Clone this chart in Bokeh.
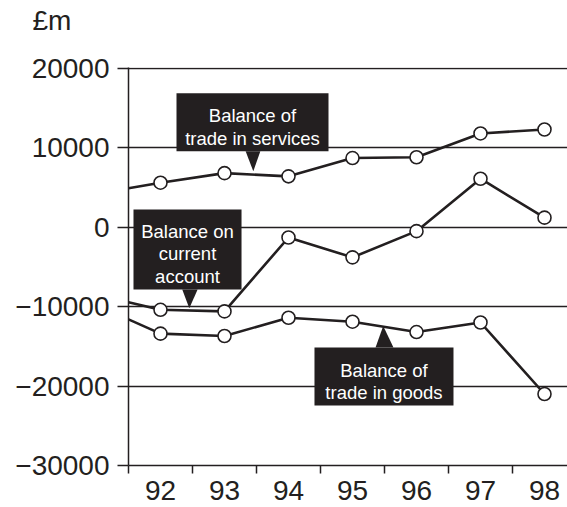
from bokeh.plotting import figure
from bokeh.models import Range1d, FixedTicker, Title, ColumnDataSource
from bokeh.core.properties import value
from bokeh.embed import file_html
from bokeh.resources import INLINE

# ---- data ----
years = [92, 93, 94, 95, 96, 97, 98]
year_labels = ["92", "93", "94", "95", "96", "97", "98"]
services = [5600, 6800, 6400, 8700, 8800, 11800, 12300]
current = [-10400, -10600, -1300, -3800, -500, 6100, 1200]
goods = [-13400, -13700, -11400, -11900, -13200, -12000, -21000]
# values where each line enters at the left axis (mid-1991)
start_x = 91.5
services_start = 4900
current_start = -9450
goods_start = -11600

y_ticks = [-30000, -20000, -10000, 0, 10000, 20000]
y_tick_labels = ["\u221230000", "\u221220000", "\u221210000", "0", "10000", "20000"]
unit_label = "£m"

# ---- callout annotations (layout, data units) ----
callouts = [
    dict(lines=["Balance of", "trade in services"], left=92.25, right=94.625, top=16850, bottom=9550,
         tip=(93.45, 7030), base=(93.33, 93.56), baselines=[14080, 11180]),
    dict(lines=["Balance on", "current", "account"], left=91.578, right=93.266, top=2240, bottom=-7830,
         tip=(92.45, -10200), base=(92.34, 92.58), baselines=[-520, -3300, -6190]),
    dict(lines=["Balance of", "trade in goods"], left=94.406, right=96.578, top=-15140, bottom=-22440,
         tip=(95.48, -12440), base=(95.36, 95.64), baselines=[-18030, -20800]),
]

INK = "#231f20"
FONT = "Liberation Sans"

p = figure(width=567, height=507, output_backend="svg", toolbar_location=None,
           x_range=Range1d(91.5, 91.5 + 439 / 64), y_range=Range1d(-30000, 20100),
           min_border_left=128, min_border_right=0, min_border_top=67, min_border_bottom=42)
p.outline_line_color = None
p.background_fill_color = "white"
p.border_fill_color = "white"

# unit label "£m" above the value axis (second, blank line lifts it up)
p.title = Title(text=unit_label + "\n ", text_font_size="28px", text_font=FONT,
                text_font_style="normal", text_color=INK, align="left", offset=-96,
                standoff=2, vertical_align="bottom", text_line_height=1.0)

# x axis: labels centred at the years, tick marks between them
xax = p.xaxis[0]
xax.ticker = FixedTicker(ticks=years, minor_ticks=[y - 0.5 for y in years])
xax.major_label_overrides = dict(zip(years, year_labels))
xax.major_tick_out = 0
xax.major_tick_in = 0
xax.minor_tick_out = 8
xax.minor_tick_in = 0
xax.minor_tick_line_color = INK
xax.minor_tick_line_width = 1.5
xax.axis_line_color = INK
xax.axis_line_width = 1.5
xax.major_label_text_font_size = "28px"
xax.major_label_text_font = FONT
xax.major_label_text_color = INK
xax.major_label_standoff = 7

yax = p.yaxis[0]
yax.ticker = FixedTicker(ticks=y_ticks, minor_ticks=[])
yax.major_label_overrides = dict(zip(y_ticks, y_tick_labels))
yax.major_tick_out = 11
yax.major_tick_in = 0
yax.major_tick_line_color = INK
yax.major_tick_line_width = 1.5
yax.axis_line_color = INK
yax.axis_line_width = 1.5
yax.major_label_text_font_size = "28px"
yax.major_label_text_font = FONT
yax.major_label_text_color = INK
yax.major_label_standoff = 8

p.xgrid.visible = False
p.ygrid.ticker = FixedTicker(ticks=y_ticks)
p.ygrid.grid_line_color = INK
p.ygrid.grid_line_width = 1.3

# ---- series ----
for start, vals in [(services_start, services), (current_start, current), (goods_start, goods)]:
    p.line([start_x] + years, [start] + vals, line_color=INK, line_width=2.6)
    p.scatter(years, vals, size=13, marker="circle", fill_color="white",
              line_color=INK, line_width=1.6)

# ---- callouts ----
for c in callouts:
    p.quad(left=[c["left"]], right=[c["right"]], top=[c["top"]], bottom=[c["bottom"]],
           fill_color=INK, line_color=None)
    if c["tip"][1] < c["bottom"]:
        base_y = c["bottom"]
    else:
        base_y = c["top"]
    p.patch([c["base"][0], c["tip"][0], c["base"][1]], [base_y, c["tip"][1], base_y],
            fill_color=INK, line_color=None)
    cx = (c["left"] + c["right"]) / 2
    src = ColumnDataSource(dict(x=[cx] * len(c["lines"]), y=c["baselines"], t=c["lines"]))
    p.text(x="x", y="y", text="t", source=src, text_color="white", text_align="center",
           text_baseline="alphabetic", text_font=value(FONT), text_font_size="18.5px")

open("out.html", "w").write(file_html(p, INLINE))
